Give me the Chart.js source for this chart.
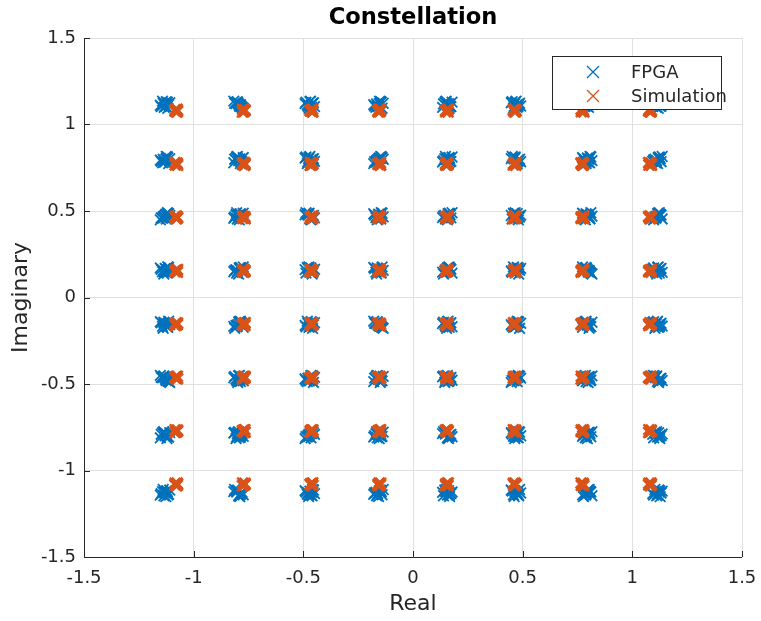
<!DOCTYPE html>
<html>
<head>
<meta charset="utf-8">
<script src="https://cdn.jsdelivr.net/npm/chart.js@4"></script>
<style>
  html, body { margin: 0; padding: 0; background: #fff; }
  #wrap { width: 761px; height: 621px; }
</style>
</head>
<body>
<div id="wrap"><canvas id="chart"></canvas></div>
<script>
// constellation levels
const simLevels = [-1.08, -0.772, -0.463, -0.154, 0.154, 0.463, 0.772, 1.08];
const fpgaLevels = [-1.13, -0.795, -0.47, -0.157, 0.157, 0.47, 0.795, 1.115];
// scatter of the received points round each level
const fpgaJitRe = [0, -0.012, 0.012, -0.006, 0.008, -0.018, 0.005, 0.016, -0.009, 0.003, -0.004, 0.01, -0.022, 0.021];
const fpgaJitIm = [0, 0.008, -0.01, -0.016, 0.014, -0.004, 0.011, -0.008, 0.02, -0.021, 0.004, 0.006, -0.012, 0.017];
const simJitRe = [0, 0.006, -0.005, 0.004, -0.006, 0.002, 0.007];
const simJitIm = [0, -0.006, 0.006, 0.008, -0.003, -0.008, 0.002];
const tickVals = [-1.5, -1, -0.5, 0, 0.5, 1, 1.5];

const blue = '#0072BD';
const orange = '#D95319';
const axisCol = '#262626';
const fontFam = '"DejaVu Sans", sans-serif';

var fpgaPts = [];
var simPts = [];
fpgaLevels.forEach((re, i) => {
  fpgaLevels.forEach((im, j) => {
    fpgaJitRe.forEach((dx, k) => {
      var m = (k + i * 3 + j * 5) % fpgaJitIm.length;
      fpgaPts.push({ x: re + dx, y: im + fpgaJitIm[m] });
    });
  });
});
simLevels.forEach((re, i) => {
  simLevels.forEach((im, j) => {
    simJitRe.forEach((dx, k) => {
      simPts.push({ x: re + dx, y: im + simJitIm[(k + i + j) % simJitIm.length] });
    });
  });
});

// inward ticks, title and legend box, matlab style
const decor = {
  id: 'decor',
  afterDraw(chart) {
    const ctx = chart.ctx;
    const xs = chart.scales.x, ys = chart.scales.y;
    const a = chart.chartArea;
    ctx.save();
    ctx.strokeStyle = axisCol;
    ctx.lineWidth = 1;
    ctx.beginPath();
    ctx.moveTo(a.left + 0.5, a.top);
    ctx.lineTo(a.left + 0.5, a.bottom + 0.5);
    ctx.lineTo(a.right, a.bottom + 0.5);
    tickVals.forEach(v => {
      var px = Math.round(xs.getPixelForValue(v)) + 0.5;
      ctx.moveTo(px, a.bottom);
      ctx.lineTo(px, a.bottom - 6);
      var py = Math.round(ys.getPixelForValue(v)) + 0.5;
      ctx.moveTo(a.left, py);
      ctx.lineTo(a.left + 6, py);
    });
    ctx.stroke();

    ctx.fillStyle = '#000';
    ctx.font = 'bold 22.6px ' + fontFam;
    ctx.textAlign = 'center';
    ctx.textBaseline = 'middle';
    ctx.fillText('Constellation', (a.left + a.right) / 2, 18);

    // legend
    ctx.fillStyle = '#fff';
    ctx.fillRect(552, 56, 169, 53);
    ctx.strokeStyle = axisCol;
    ctx.strokeRect(552.5, 56.5, 169, 53);
    [[blue, 'FPGA', 72], [orange, 'Simulation', 96]].forEach(e => {
      ctx.strokeStyle = e[0];
      ctx.lineWidth = 1.3;
      ctx.beginPath();
      ctx.moveTo(587, e[2] - 6); ctx.lineTo(599, e[2] + 6);
      ctx.moveTo(599, e[2] - 6); ctx.lineTo(587, e[2] + 6);
      ctx.stroke();
      ctx.fillStyle = axisCol;
      ctx.font = '18px ' + fontFam;
      ctx.textAlign = 'left';
      ctx.fillText(e[1], 631, e[2] + 1);
    });
    ctx.restore();
  }
};

function axisOpts(title, isX) {
  return {
    type: 'linear',
    min: -1.5,
    max: 1.5,
    afterBuildTicks: s => { s.ticks = tickVals.map(v => ({ value: v })); },
    afterFit: s => {
      if (isX) s.height = 64; else s.width = 84;
      s.paddingLeft = 0; s.paddingRight = 0;
      s.paddingTop = 0; s.paddingBottom = 0;
    },
    grid: { color: '#e0e0e0', lineWidth: 1, drawTicks: false },
    border: { display: false },
    ticks: {
      color: axisCol,
      font: { family: fontFam, size: 18 },
      padding: isX ? 11 : 8,
      callback: v => String(v)
    },
    title: {
      display: true,
      text: title,
      color: axisCol,
      font: { family: fontFam, size: 22 },
      padding: isX ? { top: 0 } : { top: 8 }
    }
  };
}

new Chart(document.getElementById('chart'), {
  type: 'scatter',
  data: {
    datasets: [{
      label: 'FPGA',
      data: fpgaPts,
      pointStyle: 'crossRot',
      radius: 7.5,
      borderColor: blue,
      backgroundColor: blue,
      borderWidth: 1.8,
      order: 2
    }, {
      label: 'Simulation',
      data: simPts,
      pointStyle: 'crossRot',
      radius: 7.5,
      borderColor: orange,
      backgroundColor: orange,
      borderWidth: 2.5,
      order: 1
    }]
  },
  options: {
    responsive: true,
    maintainAspectRatio: false,
    animation: false,
    layout: { padding: { left: 0, right: 19, top: 38, bottom: 0 } },
    plugins: { legend: { display: false }, tooltip: { enabled: false } },
    scales: {
      x: axisOpts('Real', true),
      y: axisOpts('Imaginary', false)
    }
  },
  plugins: [decor]
});
</script>
</body>
</html>
